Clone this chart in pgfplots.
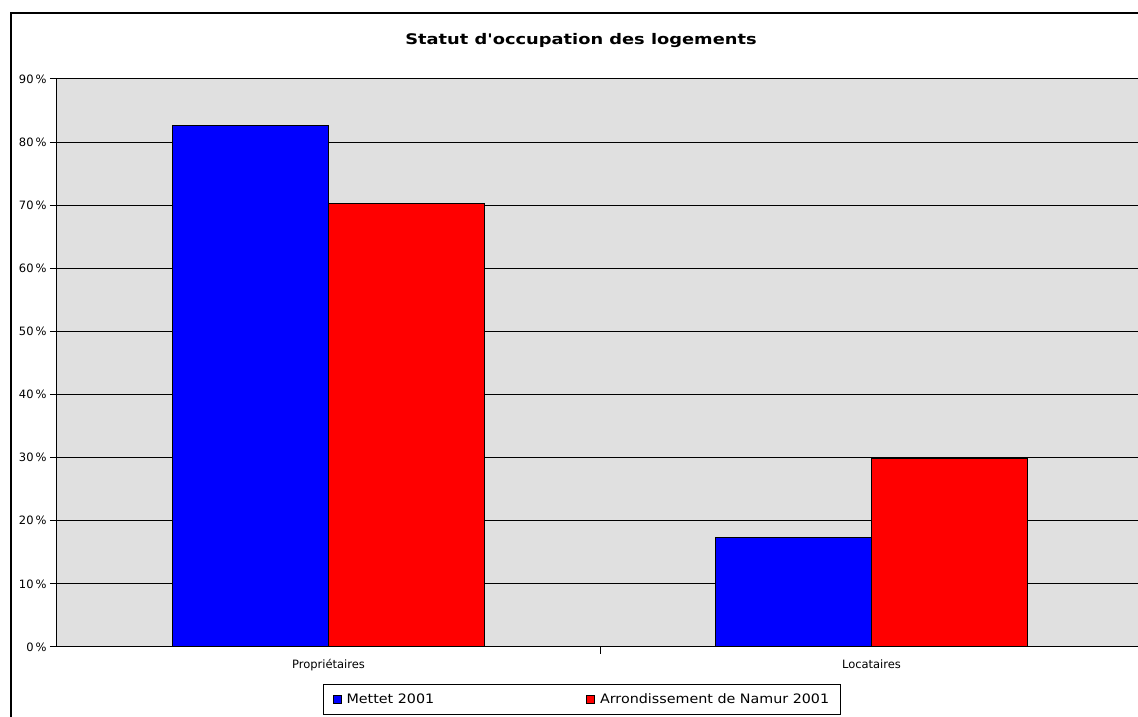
\documentclass[border=0pt]{standalone}
\usepackage{pgfplots}
\pgfplotsset{compat=1.18}
\usepackage{fontspec}
\setmainfont{DejaVu Sans}
\newfontfamily\titlefont{DejaVu Sans}[FakeStretch=1.22]
\newfontfamily\legfont{DejaVu Sans}[FakeStretch=1.1]
\definecolor{bg}{RGB}{224,224,224}
\begin{document}
\begin{tikzpicture}[x=1pt,y=1pt]
\clip (0,0) rectangle (1138,717);
\fill[white] (0,0) rectangle (1138,717);
\draw[line width=1.5pt] (11,-20) -- (11,704) -- (1160,704);
\begin{axis}[
  at={(57pt,70pt)}, anchor=south west,
  scale only axis, width=1086pt, height=568pt,
  xmin=-0.5, xmax=1.5, ymin=0, ymax=90,
  ybar=0pt, bar width=156pt,
  axis background/.style={fill=bg},
  axis x line*=bottom, axis y line*=left,
  axis line style={line width=1pt, -},
  ytick={0,10,...,90},
  yticklabels={0\,\%,10\,\%,20\,\%,30\,\%,40\,\%,50\,\%,60\,\%,70\,\%,80\,\%,90\,\%},
  ymajorgrids, grid style={black, line width=1pt},
  tick align=outside, major tick length=7pt,
  tick style={black, line width=1pt},
  xtick={0.5}, xticklabels={},
  extra x ticks={0,1}, extra x tick labels={Propriétaires,Locataires},
  extra x tick style={major tick length=0pt, xticklabel style={yshift=-9pt}},
  tick label style={font=\fontsize{11.5}{13}\selectfont},
  title={\titlefont\bfseries Statut d'occupation des logements},
  title style={at={(0.4825,1.050)}, anchor=base, font=\fontsize{14.6}{17}\selectfont},
  legend columns=2,
  area legend,
  legend image code/.code={\draw[#1, line width=0.8pt] (0pt,-4pt) rectangle (8pt,4pt);},
  legend style={at={(0.4834,-0.0924)}, anchor=center, draw=black, line width=1pt,
    inner xsep=9pt, inner ysep=7.5pt, font=\legfont\fontsize{13}{15}\selectfont,
    cells={anchor=west},
    /tikz/every odd column/.append style={column sep=3pt},
    /tikz/every even column/.append style={column sep=150pt}},
]
\addplot[fill=blue, draw=black, line width=1pt] coordinates {(0,82.7) (1,17.3)};
\addplot[fill=red, draw=black, line width=1pt] coordinates {(0,70.2) (1,29.8)};
\legend{Mettet 2001, Arrondissement de Namur 2001}
\end{axis}
\end{tikzpicture}
\end{document}
